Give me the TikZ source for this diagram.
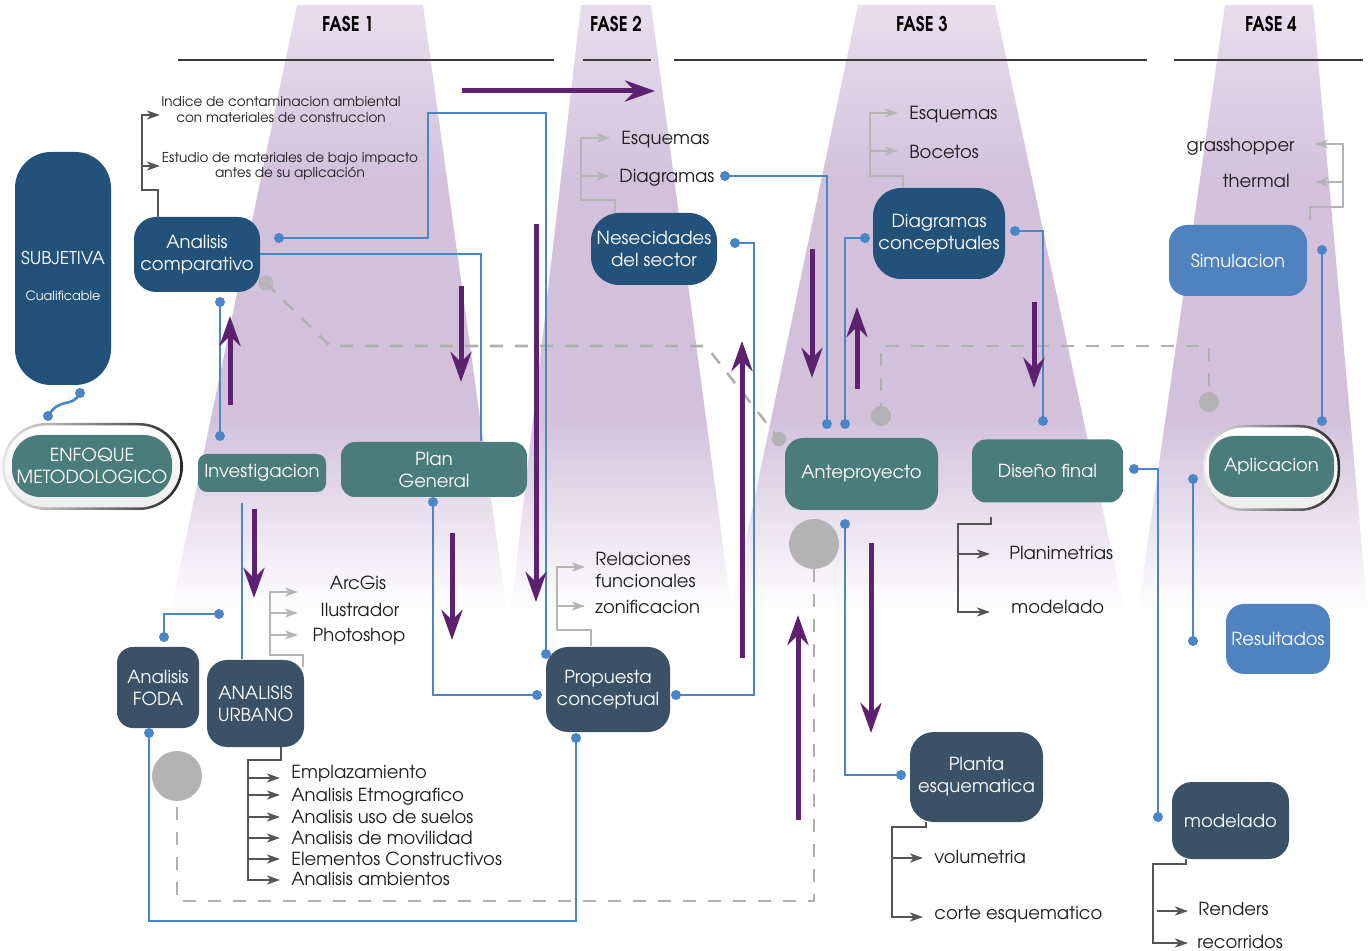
\documentclass[tikz,border=0pt]{standalone}
\usepackage{fontspec}
\IfFontExistsTF{texgyreadventor-regular.otf}{%
 \setmainfont{texgyreadventor}[Extension=.otf,UprightFont=*-regular,BoldFont=*-bold,ItalicFont=*-italic,BoldItalicFont=*-bolditalic]}{\setmainfont{Poppins}}
\usetikzlibrary{arrows.meta}
\definecolor{cdkblue}{HTML}{22527A}
\definecolor{cslate}{HTML}{3B5168}
\definecolor{cteal}{HTML}{4A7C7B}
\definecolor{cmblue}{HTML}{4E83C0}
\definecolor{cline}{HTML}{4A86C6}
\definecolor{cpurple}{HTML}{5C2270}
\definecolor{cdash}{HTML}{B0B0B0}
\definecolor{ccirc}{HTML}{B3B3B3}
\definecolor{cdk}{HTML}{555555}
\definecolor{clt}{HTML}{B5B5B5}
\definecolor{cbeamtop}{HTML}{E7DEED}
\definecolor{cbeam}{HTML}{D3C1DC}
\definecolor{ctext}{HTML}{1E1E1E}
\definecolor{chead}{HTML}{3A3A3A}
\newcommand\mydot[1]{\fill[cline] (#1) circle (2.5pt);}
\tikzset{
 box/.style={inner sep=0pt, align=center, text=white, font=\fontsize{9}{11}\selectfont},
 lbl/.style={inner sep=0pt, text=ctext, font=\fontsize{9}{11}\selectfont, text height=6.6pt, text depth=0pt},
 mlbl/.style={lbl, align=left},
 small/.style={inner sep=0pt, align=center, text=ctext, font=\fontsize{6.8}{7.7}\selectfont},
 bl/.style={draw=cline, line width=1.3pt},
 dsh/.style={draw=cdash, line width=1.3pt, dash pattern=on 6.5pt off 6pt},
 dk/.style={draw=cdk, line width=1.3pt},
 dkarr/.style={dk, -{Stealth[length=6.5pt,width=4.5pt,inset=1.8pt]}},
 lt/.style={draw=clt, line width=1.3pt},
 ltarr/.style={lt, -{Stealth[length=6.5pt,width=4.5pt,inset=1.8pt]}},
 parr/.style={draw=cpurple, line width=2.5pt, -{Stealth[length=15pt,width=10.5pt,inset=5pt]}},
 hd/.style={draw=chead, line width=1.2pt},
 fase/.style={font=\bfseries\fontsize{9.2}{10}\selectfont, text=black, inner sep=0pt},
 gcirc/.style={fill=ccirc}
}
\begin{document}
\begin{tikzpicture}[x=0.5pt,y=-0.5pt]
\useasboundingbox (0,0) rectangle (1371,951);
\fill[white] (0,0) rectangle (1371,951);
% beams
\begin{scope}
\clip (297,5) -- (423,5) -- (506.5,610) -- (171,610) -- cycle
      (581,5) -- (651,5) -- (731.5,610) -- (511,610) -- cycle
      (858,5) -- (995,5) -- (1124,610) -- (731,610) -- cycle
      (1225,5) -- (1313,5) -- (1367.5,610) -- (1138,610) -- cycle;
\shade[top color=cbeamtop, bottom color=cbeam] (0,5) rectangle (1371,180);
\fill[cbeam] (0,179) rectangle (1371,421);
\shade[top color=cbeam, bottom color=white] (0,420) rectangle (1371,612);
\end{scope}
% headers
\node[fase] (f1) at (348,24) {\scalebox{0.92}[1.1]{FASE 1}};
\node[fase] (f2) at (616,24) {\scalebox{0.92}[1.1]{FASE 2}};
\node[fase] (f3) at (922,24) {\scalebox{0.92}[1.1]{FASE 3}};
\node[fase] (f4) at (1271,24) {\scalebox{0.92}[1.1]{FASE 4}};
\draw[hd] (178,60) -- (554,60);
\draw[hd] (583,60) -- (651,60);
\draw[hd] (674,60) -- (1147,60);
\draw[hd] (1174,60) -- (1363,60);
% dashed
\draw[dsh] (266,283) -- (330,346) -- (706,346) -- (779,439);
\draw[dsh] (881,416) -- (881,346) -- (1209,346) -- (1209,402);
\draw[dsh] (814,544) -- (814,901) -- (177,901) -- (177,776);
\fill[ccirc, opacity=0.8] (266,283) circle (3.8pt);
\fill[ccirc] (779,439) circle (3.6pt);
\fill[ccirc] (881,416) circle (5pt);
\fill[ccirc] (1209,402) circle (5pt);
\fill[ccirc] (814,544) circle (12.5pt);
\fill[ccirc] (177,776) circle (12.5pt);
% nodes
\fill[cdkblue, rounded corners=18pt] (15,152) rectangle (111,385);
\node[box, font=\fontsize{8.8}{10}\selectfont] (subj) at (63,258) {SUBJETIVA};
\node[box, font=\fontsize{6.4}{8}\selectfont] (subjc) at (63,296) {Cualificable};
\shade[left color=gray!20, right color=black!85, rounded corners=22pt] (2,423) rectangle (183,510);
\shade[top color=white, bottom color=gray!14, rounded corners=21pt] (4.5,425.5) rectangle (180.5,507.5);
\node[box, fill=cteal, minimum width=80pt, minimum height=31pt, rounded corners=14pt] (enf) at (92,466) {ENFOQUE\\METODOLOGICO};
\node[box, fill=cdkblue, minimum width=63pt, minimum height=37.5pt, rounded corners=11pt] (ac) at (197,254.5) {Analisis\\comparativo};
\node[box, fill=cteal, minimum width=64pt, minimum height=19pt, rounded corners=4.5pt] (inv) at (262,473) {Investigacion};
\node[box, fill=cteal, minimum width=93pt, minimum height=27.5pt, rounded corners=7pt] (pg) at (434,469.5) {Plan\\General};
\node[box, fill=cslate, minimum width=41pt, minimum height=40.5pt, rounded corners=8pt] (foda) at (158,687.5) {Analisis\\FODA};
\node[box, fill=cslate, minimum width=48.5pt, minimum height=43.5pt, rounded corners=10pt] (au) at (255.5,703.5) {ANALISIS\\URBANO};
\node[box, fill=cdkblue, minimum width=63pt, minimum height=36pt, rounded corners=14pt] (nes) at (654,249) {Nesecidades\\del sector};
\node[box, fill=cslate, minimum width=62pt, minimum height=42.5pt, rounded corners=11pt] (prop) at (608,689.5) {Propuesta\\conceptual};
\node[box, fill=cteal, minimum width=76.5pt, minimum height=36pt, rounded corners=9pt] (ante) at (861.5,474) {Anteproyecto};
\node[box, fill=cdkblue, minimum width=66pt, minimum height=45.5pt, rounded corners=14pt] (dc) at (939,233.5) {Diagramas\\conceptuales};
\node[box, fill=cteal, minimum width=75.5pt, minimum height=31.5pt, rounded corners=7pt] (df) at (1047.5,471) {Diseño final};
\node[box, fill=cmblue, minimum width=69pt, minimum height=35.5pt, rounded corners=9pt] (sim) at (1238,260.5) {Simulacion};
\shade[left color=gray!20, right color=black!85, rounded corners=20pt] (1203,425) rectangle (1340,511);
\shade[top color=white, bottom color=gray!14, rounded corners=19pt] (1205.5,427.5) rectangle (1337.5,508.5);
\node[box, fill=cteal, minimum width=62.5pt, minimum height=30.5pt, rounded corners=12.5pt] (apl) at (1271.5,466.5) {Aplicacion};
\node[box, fill=cmblue, minimum width=52pt, minimum height=35pt, rounded corners=9pt] (res) at (1278,639) {Resultados};
\node[box, fill=cslate, minimum width=66.5pt, minimum height=45pt, rounded corners=12pt] (pe) at (976.5,777) {Planta\\esquematica};
\node[box, fill=cslate, minimum width=58.5pt, minimum height=38.5pt, rounded corners=10pt] (mod) at (1230.5,820.5) {modelado};
% labels
\node[small] (t1) at (281,109.5) {Indice de contaminacion ambiental\\con materiales de construccion};
\node[small] (t2) at (290,166) {Estudio de materiales de bajo impacto\\antes de su aplicación};
\node[lbl] (arc) at (358,583) {ArcGis};
\node[lbl] (ilu) at (360,610) {Ilustrador};
\node[lbl] (pho) at (359,635) {Photoshop};
\node[lbl, anchor=west] (u1) at (291,772) {Emplazamiento};
\node[lbl, anchor=west] (u2) at (291,795) {Analisis Etmografico};
\node[lbl, anchor=west] (u3) at (291,817) {Analisis uso de suelos};
\node[lbl, anchor=west] (u4) at (291,838) {Analisis de movilidad};
\node[lbl, anchor=west] (u5) at (291,859) {Elementos Constructivos};
\node[lbl, anchor=west] (u6) at (291,879) {Analisis ambientos};
\node[lbl, anchor=west] (e1) at (621,138) {Esquemas};
\node[lbl, anchor=west] (e2) at (619,176) {Diagramas};
\node[lbl, anchor=west] (r1) at (595,559) {Relaciones};
\node[lbl, anchor=west] (r1b) at (595,581) {funcionales};
\node[lbl, anchor=west] (r2) at (595,607) {zonificacion};
\node[lbl, anchor=west] (e3) at (909,113) {Esquemas};
\node[lbl, anchor=west] (e4) at (909,152) {Bocetos};
\node[lbl, anchor=west] (p1) at (1009,553) {Planimetrias};
\node[lbl, anchor=west] (p2) at (1011,607) {modelado};
\node[lbl, anchor=west] (v1) at (934,857) {volumetria};
\node[lbl, anchor=west] (v2) at (934,913) {corte esquematico};
\node[lbl, anchor=west] (m1) at (1198,909) {Renders};
\node[lbl, anchor=west] (m2) at (1197,942) {recorridos};
\node[lbl, anchor=east] (g1) at (1295,145) {grasshopper};
\node[lbl, anchor=east] (g2) at (1290,181) {thermal};
% coordinates for connector ends
\coordinate (d1) at (279,238);
\coordinate (d2) at (546,654);
\coordinate (d3) at (220,302);
\coordinate (d4) at (220,436);
\coordinate (d5) at (164,637);
\coordinate (d6) at (219,614);
\coordinate (d7) at (149,733);
\coordinate (d8) at (576,738);
\coordinate (d9) at (433,502);
\coordinate (d10) at (537,695);
\coordinate (d11) at (676,695);
\coordinate (d12) at (735,243);
\coordinate (d13) at (725,176);
\coordinate (d14) at (827,424);
\coordinate (d15) at (865,238);
\coordinate (d16) at (845,424);
\coordinate (d17) at (1015,231);
\coordinate (d18) at (1043,421);
\coordinate (d19) at (845,524);
\coordinate (d20) at (901,775);
\coordinate (d21) at (1134,469);
\coordinate (d22) at (1158,817);
\coordinate (d23) at (1322,250);
\coordinate (d24) at (1322,421);
\coordinate (d25) at (1193,479);
\coordinate (d26) at (1193,641);
\coordinate (d27) at (80,393);
\coordinate (d28) at (48,416);
% blue connectors
\draw[bl] (d1) -- (428,238) -- (428,113) -- (546,113) -- (d2);
\draw[bl] (ac.east |- 0,254) -- (481,254) -- (481,441);
\draw[bl] (d3) -- (d4);
\draw[bl] (242,503) -- (242,659);
\draw[bl] (d5) -- (164,614) -- (d6);
\draw[bl] (d7) -- (149,921) -- (576,921) -- (d8);
\draw[bl] (d9) -- (433,695) -- (d10);
\draw[bl] (d11) -- (754,695) -- (754,243) -- (d12);
\draw[bl] (d13) -- (827,176) -- (d14);
\draw[bl] (d15) -- (845,238) -- (d16);
\draw[bl] (d17) -- (1043,231) -- (d18);
\draw[bl] (d19) -- (845,775) -- (d20);
\draw[bl] (d21) -- (1158,469) -- (d22);
\draw[bl] (d23) -- (d24);
\draw[bl] (d25) -- (d26);
\draw[bl] (d27) .. controls (72,409) and (60,396) .. (d28);
\foreach \d in {d1,d2,d3,d4,d5,d6,d7,d8,d9,d10,d11,d12,d13,d14,d15,d16,d17,d18,d19,d20,d21,d22,d23,d24,d25,d26,d27,d28} {\mydot{\d}}
% dark brackets
\draw[dkarr] (158,217) -- (158,190) -- (142,190) -- (142,115) -- (160,115);
\draw[dkarr] (142,166) -- (160,166);
\draw[dkarr] (281,747) -- (281,760) -- (248,760) -- (248,880) -- (280,880);
\foreach \yy in {778,795,817,838,859} {\draw[dkarr] (248,\yy) -- (280,\yy);}
\draw[dkarr] (991,517) -- (991,524) -- (958,524) -- (958,612) -- (990,612);
\draw[dkarr] (958,554) -- (990,554);
\draw[dkarr] (926,822) -- (926,827) -- (892,827) -- (892,917) -- (923,917);
\draw[dkarr] (892,858) -- (923,858);
\draw[dkarr] (1186,859) -- (1186,864) -- (1153,864) -- (1153,943) -- (1188,943);
\draw[dkarr] (1157,911) -- (1188,911);
% light brackets
\draw[ltarr] (303,667) -- (303,655) -- (270,655) -- (270,592) -- (298,592);
\draw[ltarr] (270,613) -- (298,613);
\draw[ltarr] (270,635) -- (298,635);
\draw[ltarr] (591,646) -- (591,630) -- (557,630) -- (557,567) -- (585,567);
\draw[ltarr] (557,606) -- (585,606);
\draw[ltarr] (615,213) -- (615,200) -- (581,200) -- (581,138) -- (610,138);
\draw[ltarr] (581,176) -- (610,176);
\draw[ltarr] (903,188) -- (903,176) -- (870,176) -- (870,113) -- (898,113);
\draw[ltarr] (870,151) -- (898,151);
\draw[ltarr] (1310,220) -- (1310,207) -- (1343,207) -- (1343,144) -- (1315,144);
\draw[ltarr] (1343,182) -- (1315,182);
% purple arrows
\draw[parr] (462,91) -- (655,91);
\draw[parr] (230,405) -- (230,316);
\draw[parr] (461,286) -- (461,382);
\draw[parr] (536,224) -- (536,602);
\draw[parr] (742,658) -- (742,341);
\draw[parr] (812,249) -- (812,378);
\draw[parr] (857,389) -- (857,307);
\draw[parr] (1034,302) -- (1034,388);
\draw[parr] (254,509) -- (254,598);
\draw[parr] (452,533) -- (452,640);
\draw[parr] (798,820) -- (798,615);
\draw[parr] (871,543) -- (871,733);
\end{tikzpicture}
\end{document}
